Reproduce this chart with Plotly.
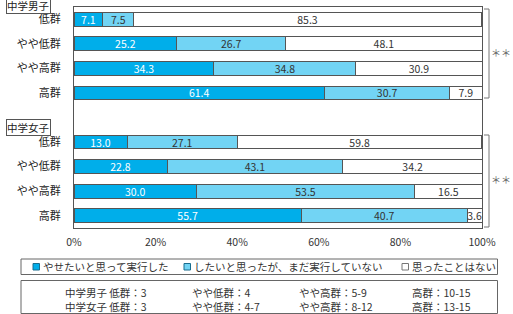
import plotly.graph_objects as go

# ---- data ----
categories = ["低群", "やや低群", "やや高群", "高群"]
groups = ["中学男子", "中学女子"]
series_names = ["やせたいと思って実行した", "したいと思ったが、まだ実行していない", "思ったことはない"]
male_did = [7.1, 25.2, 34.3, 61.4]
male_want = [7.5, 26.7, 34.8, 30.7]
male_never = [85.3, 48.1, 30.9, 7.9]
female_did = [13.0, 22.8, 30.0, 55.7]
female_want = [27.1, 43.1, 53.5, 40.7]
female_never = [59.8, 34.2, 16.5, 3.6]
x_ticks = [0, 20, 40, 60, 80, 100]
x_ticklabels = ["0%", "20%", "40%", "60%", "80%", "100%"]
note_rows = [
    ["中学男子 低群：3", "やや低群：4", "やや高群：5-9", "高群：10-15"],
    ["中学女子 低群：3", "やや低群：4-7", "やや高群：8-12", "高群：13-15"],
]
significance = ["＊＊", "＊＊"]

# ---- style ----
W, H = 513, 314
PL, PR, PT, PB = 74, 482, 7, 228
colors = ["#00AEEA", "#72D4F4", "#FFFFFF"]
text_colors = ["#FFFFFF", "#333333", "#333333"]
edge = "#555555"
FONT = "Noto Sans CJK JP, Noto Sans, sans-serif"


def fx(p):
    return (p - PL) / (PR - PL)


def fy(p):
    return (PB - p) / (PB - PT)


# positions: male 0..3, gap at 4, female 5..8
male_pos = list(range(4))
female_pos = [i + 5 for i in range(4)]
positions = male_pos + female_pos
series_vals = [male_did + female_did, male_want + female_want, male_never + female_never]

fig = go.Figure()
for name, vals, col, tcol in zip(series_names, series_vals, colors, text_colors):
    fig.add_trace(go.Bar(
        y=positions, x=vals, name=name, orientation="h",
        marker=dict(color=col, line=dict(color=edge, width=1)),
        width=0.56,
        text=[f"{v:.1f}" for v in vals],
        textposition="inside", insidetextanchor="middle",
        textangle=0, constraintext="none",
        textfont=dict(color=tcol, size=10.5, family=FONT),
        showlegend=False,
        hoverinfo="skip",
    ))

shapes = []
annotations = []

# group labels
for g, ycenter in zip(groups, [5.5, 127.5]):
    annotations.append(dict(
        x=fx(28), y=fy(ycenter), xref="paper", yref="paper", text=g,
        showarrow=False, font=dict(size=10.5, color="#222", family=FONT),
        bordercolor=edge, borderwidth=1, borderpad=0, bgcolor="white",
        xanchor="center", yanchor="middle"))

# brackets + significance
for (ytop, ybot, ystar), sig in zip([(9, 98, 52), (135, 227, 179)], significance):
    shapes.append(dict(
        type="path", xref="paper", yref="paper",
        path=f"M {fx(484)} {fy(ytop)} L {fx(489)} {fy(ytop)} L {fx(489)} {fy(ybot)} L {fx(484)} {fy(ybot)}",
        line=dict(color="#777", width=1)))
    annotations.append(dict(
        x=fx(501), y=fy(ystar), xref="paper", yref="paper", text=sig,
        showarrow=False, font=dict(size=10, color="#666", family=FONT),
        xanchor="center", yanchor="middle"))

# legend box
shapes.append(dict(type="rect", xref="paper", yref="paper",
                   x0=fx(21), x1=fx(497.5), y0=fy(259), y1=fy(274.5),
                   line=dict(color="#666", width=1), fillcolor="white"))
legend_x = [33, 184, 402]
icon_edges = ["#1a6d8e", "#1a6d8e", "#777777"]
for name, col, ix, ie in zip(series_names, colors, legend_x, icon_edges):
    shapes.append(dict(type="rect", xref="paper", yref="paper",
                       x0=fx(ix), x1=fx(ix + 6.5), y0=fy(263.5), y1=fy(270),
                       line=dict(color=ie, width=1), fillcolor=col))
    annotations.append(dict(
        x=fx(ix + 8), y=fy(266.5), xref="paper", yref="paper", text=name,
        showarrow=False, font=dict(size=10.5, color="#333", family=FONT),
        xanchor="left", yanchor="middle"))

# note box
shapes.append(dict(type="rect", xref="paper", yref="paper",
                   x0=fx(21), x1=fx(497.5), y0=fy(280.5), y1=fy(313.5),
                   line=dict(color="#666", width=1), fillcolor="white"))
col_x = [63, 190, 297, 410]
for ci, cx in enumerate(col_x):
    txt = "<br>".join(row[ci] for row in note_rows)
    annotations.append(dict(
        x=fx(cx), y=fy(299), xref="paper", yref="paper", text=txt,
        showarrow=False, align="left",
        font=dict(size=10.5, color="#333", family=FONT),
        xanchor="left", yanchor="middle"))

fig.update_layout(
    width=W, height=H,
    margin=dict(l=PL, r=W - PR, t=PT, b=H - PB, pad=0),
    barmode="stack",
    plot_bgcolor="white", paper_bgcolor="white",
    font=dict(family=FONT, color="#333"),
    shapes=shapes, annotations=annotations,
    xaxis=dict(range=[0, 100], tickvals=x_ticks, ticktext=x_ticklabels,
               showgrid=False, zeroline=False, showline=True, mirror=True,
               linecolor="#555", linewidth=1, ticks="", ticklabelstandoff=4,
               tickfont=dict(size=10.5, color="#333", family=FONT), fixedrange=True),
    yaxis=dict(range=[8.5, -0.5], tickvals=positions,
               ticktext=categories + categories,
               showgrid=False, zeroline=False, showline=True, mirror=True,
               linecolor="#555", linewidth=1, ticks="", ticklabelstandoff=10,
               tickfont=dict(size=11, color="#222", family=FONT), fixedrange=True),
    showlegend=False,
)

fig.write_html("out.html")
